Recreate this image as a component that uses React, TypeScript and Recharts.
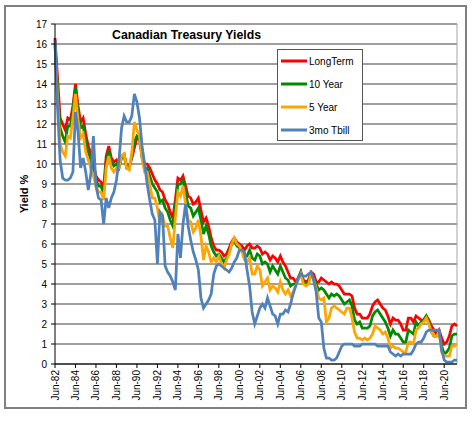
import React from 'react';
import { LineChart, Line, XAxis, YAxis, CartesianGrid, Legend, ReferenceLine } from 'recharts';

// quarterly readings, Jun-82 .. Sep-21 (one row = two years)
const QUARTER_MONTHS = ['Jun', 'Sep', 'Dec', 'Mar'];
const QUARTER_COUNT = 158;

const quarterLabels: string[] = Array.from({ length: QUARTER_COUNT }, (_, i) => {
  const yy = (82 + Math.floor((i + 1) / 4)) % 100;
  return `${QUARTER_MONTHS[i % 4]}-${String(yy).padStart(2, '0')}`;
});

const longTerm = [
  16.3, 14.3, 12.3, 12.0, 11.7, 12.3, 12.2, 12.9,
  14.0, 12.9, 12.1, 12.3, 11.5, 10.9, 10.5, 10.0,
  9.4, 9.2, 9.1, 8.8, 10.4, 10.9, 10.3, 10.1,
  10.2, 9.9, 10.4, 10.5, 9.9, 9.9, 10.3, 10.8,
  11.3, 11.3, 10.5, 10.0, 10.0, 9.8, 9.5, 9.2,
  9.0, 8.7, 8.6, 8.2, 8.0, 7.6, 7.3, 8.2,
  9.3, 9.2, 9.4, 8.9, 8.4, 8.3, 8.0, 8.1,
  8.3, 7.7, 7.1, 7.3, 6.9, 6.3, 5.9, 5.7,
  5.7, 5.6, 5.4, 5.5, 5.8, 6.1, 6.3, 6.1,
  6.0, 5.9, 5.7, 5.9, 6.0, 5.8, 5.8, 5.9,
  5.8, 5.5, 5.6, 5.5, 5.2, 5.4, 5.3, 5.1,
  5.4, 5.1, 4.9, 4.6, 4.3, 4.3, 4.1, 4.3,
  4.6, 4.2, 4.1, 4.2, 4.6, 4.5, 4.1, 4.1,
  4.3, 4.2, 4.1, 4.0, 4.1, 4.0, 4.0, 3.9,
  3.7, 3.5, 3.5, 3.5, 3.4, 2.8, 2.5, 2.5,
  2.3, 2.3, 2.3, 2.5, 2.9, 3.1, 3.2, 3.0,
  2.8, 2.7, 2.4, 2.0, 2.3, 2.2, 2.2, 2.0,
  1.7, 1.7, 2.3, 2.3, 2.1, 2.4, 2.3, 2.2,
  2.2, 2.4, 2.2, 1.9, 1.7, 1.5, 1.7, 1.3,
  1.0, 1.1, 1.4, 1.9, 2.0, 1.9,
];

const tenYear = [
  16.0, 13.8, 11.8, 11.4, 11.1, 11.9, 11.9, 12.7,
  13.8, 12.6, 11.8, 11.9, 11.1, 10.6, 10.2, 9.7,
  9.2, 8.9, 8.9, 8.5, 10.1, 10.7, 10.1, 9.9,
  10.0, 9.8, 10.3, 10.4, 9.8, 9.8, 10.4, 11.1,
  11.4, 11.3, 10.3, 9.8, 9.8, 9.4, 9.0, 8.8,
  8.6, 8.1, 8.2, 7.8, 7.6, 7.2, 6.9, 7.9,
  9.0, 9.0, 9.2, 8.6, 7.9, 7.8, 7.4, 7.6,
  7.8, 7.2, 6.5, 6.9, 6.5, 5.9, 5.6, 5.4,
  5.5, 5.3, 5.1, 5.3, 5.6, 6.0, 6.2, 5.9,
  5.8, 5.7, 5.4, 5.4, 5.7, 5.3, 5.2, 5.5,
  5.4, 5.0, 5.1, 5.0, 4.6, 4.9, 4.7, 4.5,
  4.9, 4.6, 4.3, 4.2, 3.9, 4.0, 4.0, 4.3,
  4.6, 4.1, 4.0, 4.1, 4.5, 4.3, 4.0, 3.7,
  3.8, 3.7, 3.5, 3.3, 3.5, 3.4, 3.5, 3.4,
  3.2, 3.0, 3.1, 3.2, 2.9, 2.2, 2.0, 2.1,
  1.8, 1.8, 1.8, 1.9, 2.4, 2.6, 2.7, 2.5,
  2.3, 2.1, 1.8, 1.4, 1.7, 1.5, 1.5, 1.3,
  1.1, 1.1, 1.7, 1.6, 1.5, 2.1, 1.9, 2.1,
  2.2, 2.4, 2.1, 1.6, 1.4, 1.4, 1.6, 0.9,
  0.5, 0.6, 0.8, 1.4, 1.5, 1.5,
];

const fiveYear = [
  15.9, 13.3, 11.0, 10.6, 10.4, 11.4, 11.3, 12.3,
  13.5, 12.2, 11.3, 11.5, 10.6, 10.2, 9.8, 9.4,
  8.9, 8.6, 8.6, 8.2, 9.8, 10.4, 9.8, 9.6,
  9.8, 9.8, 10.4, 10.5, 9.8, 9.7, 10.6, 12.1,
  11.7, 11.4, 10.3, 9.6, 9.6, 9.0, 8.3, 8.3,
  7.8, 7.0, 7.4, 6.9, 6.9, 6.3, 5.8, 7.3,
  8.6, 8.4, 8.9, 8.0, 7.2, 7.1, 6.6, 6.8,
  7.2, 6.4, 5.2, 5.9, 5.6, 5.1, 5.3, 5.1,
  5.4, 5.0, 4.8, 5.2, 5.5, 6.0, 6.3, 6.0,
  5.9, 5.6, 5.2, 5.1, 5.3, 4.5, 4.5, 4.9,
  4.7, 3.9, 4.1, 4.3, 3.7, 3.9, 3.8, 3.6,
  4.1, 3.7, 3.5, 3.7, 3.4, 3.6, 3.9, 4.2,
  4.5, 4.0, 3.9, 4.0, 4.5, 4.2, 3.8, 3.3,
  3.2, 3.3, 2.1, 2.3, 2.8, 2.9, 2.8, 2.7,
  2.6, 2.5, 2.8, 2.8, 2.3, 1.6, 1.3, 1.3,
  1.2, 1.3, 1.2, 1.3, 1.5, 1.9, 1.8, 1.7,
  1.5, 1.6, 1.3, 0.8, 0.9, 0.8, 0.8, 0.7,
  0.6, 0.6, 1.1, 1.1, 1.0, 1.7, 1.8, 2.0,
  2.1, 2.3, 2.0, 1.6, 1.4, 1.4, 1.6, 0.6,
  0.4, 0.4, 0.4, 0.9, 0.9, 1.0,
];

const tBill3mo = [
  16.2, 12.8, 10.2, 9.3, 9.2, 9.2, 9.3, 9.6,
  12.6, 11.6, 9.8, 10.3, 9.6, 8.7, 9.5, 11.4,
  8.9, 8.3, 8.2, 7.0, 8.3, 7.8, 8.3, 8.6,
  9.2, 10.2, 11.8, 12.4, 12.1, 12.1, 12.4, 13.5,
  13.1, 12.3, 10.9, 10.0, 9.0, 8.2, 7.5, 7.2,
  5.0, 7.6, 7.4, 4.9, 4.6, 4.4, 4.1, 3.7,
  6.5, 5.3, 7.0, 8.0, 6.9, 6.2, 5.6, 5.2,
  4.7, 3.3, 2.8, 3.0, 3.2, 3.5, 4.5, 4.9,
  5.0, 4.9, 4.8, 4.7, 4.6, 4.8, 5.1, 5.3,
  5.7, 5.7, 5.6, 4.7, 3.9, 2.6, 2.0, 2.4,
  2.8, 3.0, 2.8, 3.3, 2.9, 2.5, 2.4, 2.0,
  2.5, 2.5, 2.7, 2.6, 3.0, 3.5, 3.9, 4.3,
  4.5, 4.4, 4.4, 4.5, 4.6, 4.2, 3.6, 2.3,
  2.1, 0.8, 0.3, 0.3, 0.2, 0.2, 0.3, 0.6,
  0.9, 1.0, 1.0, 1.0, 1.0, 0.9, 0.9, 0.9,
  1.0, 1.0, 1.0, 1.0, 1.0, 1.0, 0.9, 0.9,
  0.9, 0.9, 0.9, 0.6, 0.5, 0.4, 0.5, 0.4,
  0.5, 0.5, 0.5, 0.5, 0.7, 1.0, 1.1, 1.1,
  1.3, 1.6, 1.7, 1.7, 1.7, 1.7, 1.7, 0.7,
  0.2, 0.1, 0.1, 0.1, 0.2, 0.2,
];

const yTicks = [0, 1, 2, 3, 4, 5, 6, 7, 8, 9, 10, 11, 12, 13, 14, 15, 16, 17];

const series = [
  { key: 'longTerm', name: 'LongTerm', color: '#ff0000' },
  { key: 'tenYear', name: '10 Year', color: '#008a00' },
  { key: 'fiveYear', name: '5 Year', color: '#ffa500' },
  { key: 'tBill3mo', name: '3mo Tbill', color: '#4f81bd' },
];

const data = quarterLabels.map((q, i) => ({
  q,
  longTerm: longTerm[i],
  tenYear: tenYear[i],
  fiveYear: fiveYear[i],
  tBill3mo: tBill3mo[i],
}));

const FONT = '"Liberation Sans", Arial, sans-serif';

const RotatedTick = (props: any) => {
  const { x, y, payload } = props;
  return (
    <text
      x={x}
      y={y}
      dy={3.5}
      transform={`rotate(-90, ${x}, ${y})`}
      textAnchor="end"
      fontSize={10}
      fontFamily={FONT}
      fill="#000"
    >
      {payload.value}
    </text>
  );
};

// legend keeps the series order (Excel style), not alphabetical
const LegendBox = () => (
  <div
    style={{
      width: 84,
      height: 90,
      border: '1px solid #555',
      background: '#fff',
      fontFamily: FONT,
      fontSize: 10,
      color: '#000',
      position: 'relative',
    }}
  >
    {series.map((s, idx) => (
      <div key={s.key} style={{ position: 'absolute', left: 3, top: 5 + idx * 23, height: 12, display: 'flex', alignItems: 'center' }}>
        <svg width={26} height={12}>
          <line x1={0} y1={6} x2={26} y2={6} stroke={s.color} strokeWidth={3} />
        </svg>
        <span style={{ marginLeft: 2 }}>{s.name}</span>
      </div>
    ))}
  </div>
);

export default function App() {
  return (
    <div style={{ position: 'absolute', left: 0, top: 0, width: 474, height: 422, background: '#fff' }}>
      <div style={{ position: 'absolute', left: 4, top: 5, width: 459, height: 400, border: '2px solid #808080' }} />
      <div
        style={{
          position: 'absolute',
          left: 112,
          top: 28,
          fontFamily: FONT,
          fontWeight: 'bold',
          fontSize: 12.3,
          color: '#000',
          background: '#fff',
          lineHeight: '14px',
          zIndex: 2,
        }}
      >
        Canadian Treasury Yields
      </div>
      <div style={{ position: 'absolute', left: 0, top: 0 }}>
        <LineChart width={474} height={422} data={data} margin={{ top: 24, right: 17, bottom: 18, left: 0 }}>
          <CartesianGrid vertical={false} stroke="#404040" />
          <ReferenceLine x={quarterLabels[QUARTER_COUNT - 1]} stroke="#a6a6a6" />
          <XAxis
            dataKey="q"
            interval={7}
            height={40}
            tick={<RotatedTick />}
            tickSize={4}
            tickLine={{ stroke: '#000' }}
            axisLine={{ stroke: '#000' }}
          />
          <YAxis
            domain={[0, 17]}
            ticks={yTicks}
            interval={0}
            width={55}
            tickSize={4}
            tickMargin={4}
            tick={{ fontSize: 10, fill: '#000', fontFamily: FONT }}
            tickLine={{ stroke: '#000' }}
            axisLine={{ stroke: '#000' }}
            label={{
              value: 'Yield %',
              angle: -90,
              position: 'center',
              dx: -3,
              style: { fontSize: 11, fontWeight: 'bold', fill: '#000', fontFamily: FONT },
            }}
          />
          <Legend
            layout="vertical"
            align="center"
            verticalAlign="middle"
            content={<LegendBox />}
            wrapperStyle={{ left: 277, top: 49, width: 86, height: 92 }}
          />
          {series.map((s) => (
            <Line
              key={s.key}
              type="linear"
              dataKey={s.key}
              name={s.name}
              stroke={s.color}
              strokeWidth={2.75}
              dot={false}
              isAnimationActive={false}
            />
          ))}
        </LineChart>
      </div>
    </div>
  );
}
